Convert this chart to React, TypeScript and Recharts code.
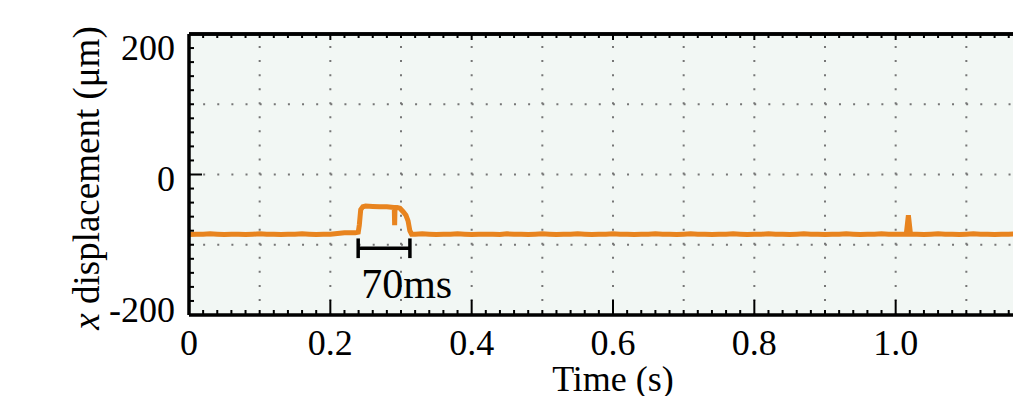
import React from "react";
import {
  LineChart,
  Line,
  XAxis,
  YAxis,
  CartesianGrid,
  ReferenceLine,
  ReferenceDot,
} from "recharts";

const FONT = '"Liberation Serif", "Times New Roman", serif';
const TRACE = "#e8841f";
const GRID_DOT = "#767676";

// sample step of the recorded trace (s)
const STEP = 0.01;

// baseline before the pulse, t = 0 .. 0.23
const PRE_VALUES = [
  -85.5, -85, -85, -84.5, -85, -85.5, -85, -85, -85.5, -85, -84.5, -85, -85,
  -85.5, -85, -85, -84.5, -85, -85.5, -85, -85, -84, -83, -83,
];

// the 70 ms pulse
const PULSE_T = [
  0.235, 0.2395, 0.241, 0.243, 0.246, 0.25, 0.26, 0.27, 0.28, 0.29, 0.2905,
  0.291, 0.2915, 0.295, 0.2985, 0.303, 0.307, 0.31, 0.3125, 0.315,
];
const PULSE_V = [
  -83, -82, -72, -50, -46, -45, -45.5, -46, -46, -47, -47, -72, -48, -47, -48,
  -53, -58, -66, -80, -85,
];

// baseline after the pulse, t = 0.32 .. 1.01
const POST_START = 0.32;
const POST_VALUES = [
  -85, -84.5, -85, -85.5, -85, -85, -84.5, -85, -85.5, -85,
  -85, -85, -85.5, -84.5, -85, -85, -85.5, -85, -84.5, -85,
  -85.5, -85, -85, -84.5, -85, -85.5, -85, -85, -84.5, -85,
  -85, -85.5, -85, -85, -84.5, -85, -85, -85.5, -85, -84.5,
  -85, -85, -85.5, -85, -85, -84.5, -85, -85.5, -85, -85,
  -84.5, -85, -85, -85.5, -85, -84.5, -85, -85, -85.5, -85,
  -85, -84.5, -85, -85.5, -85, -85, -84.5, -85, -85, -85,
];

// small spike near 1.02 s
const SPIKE_T = [1.015, 1.018, 1.021];
const SPIKE_V = [-85, -58, -85];

// tail, t = 1.03 .. 1.20
const TAIL_START = 1.03;
const TAIL_VALUES = [
  -85, -85.5, -85, -84.5, -85, -85, -85.5, -85, -84.5, -85, -85, -85.5, -85,
  -85, -84.5, -85, -85.5, -85,
];

const X_LABELS = [0, 0.2, 0.4, 0.6, 0.8, 1.0, 1.2];
const Y_LABELS = [-200, 0, 200];
const GRID_X = [0.1, 0.2, 0.3, 0.4, 0.5, 0.6, 0.7, 0.8, 0.9, 1.0, 1.1];
const GRID_Y = [-100, 0, 100];
const X_MINOR = Array.from({ length: 61 }, (_, i) => +(i * 0.02).toFixed(2));
const Y_MINOR = Array.from({ length: 21 }, (_, i) => -200 + i * 20);

// 70 ms bracket (data units)
const BRACKET = { from: 0.2394, to: 0.3126, level: -105, capLow: -119, capHigh: -91 };
const BRACKET_TEXT = { t: 0.308, v: -154, text: "70ms" };

const seq = (start: number, values: number[]) =>
  values.map((v, i) => ({ t: +(start + i * STEP).toFixed(3), x: v }));

const data = [
  ...seq(0, PRE_VALUES),
  ...PULSE_T.map((t, i) => ({ t, x: PULSE_V[i] })),
  ...seq(POST_START, POST_VALUES),
  ...SPIKE_T.map((t, i) => ({ t, x: SPIKE_V[i] })),
  ...seq(TAIL_START, TAIL_VALUES),
];

const near = (list: number[], v: number) => list.some((l) => Math.abs(l - v) < 1e-6);

const BottomTick = (props: any) => {
  const { x, y, payload } = props;
  const v = payload.value;
  const major = near(X_LABELS, v);
  return (
    <g>
      <line x1={x} x2={x} y1={y} y2={y - (major ? 15 : 5)} stroke="#000" strokeWidth={2} />
      {major && (
        <text x={x} y={y + 40} textAnchor="middle" fontSize={36} fontFamily={FONT} fill="#000">
          {v === 0 ? "0" : v.toFixed(1)}
        </text>
      )}
    </g>
  );
};

const TopTick = (props: any) => {
  const { x, y, payload } = props;
  const major = near(X_LABELS, payload.value);
  return <line x1={x} x2={x} y1={y} y2={y + (major ? 6 : 4)} stroke="#000" strokeWidth={2} />;
};

const LABEL_SHIFT: Record<number, number> = { 200: 26, 0: 16, "-200": 7 };

const LeftTick = (props: any) => {
  const { x, y, payload } = props;
  const v = payload.value;
  const major = near(Y_LABELS, v);
  return (
    <g>
      <line x1={x} x2={x + (major ? 13 : 5)} y1={y} y2={y} stroke="#000" strokeWidth={2} />
      {major && (
        <text x={x - 14} y={y + LABEL_SHIFT[v]} textAnchor="end" fontSize={36} fontFamily={FONT} fill="#000">
          {String(v)}
        </text>
      )}
    </g>
  );
};

const XTitle = () => (
  <text x={613} y={391} textAnchor="middle" fontSize={36} fontFamily={FONT} fill="#000">
    Time (s)
  </text>
);

const YTitle = () => (
  <text
    x={99}
    y={178}
    transform="rotate(-90 99 178)"
    textAnchor="middle"
    fontSize={37}
    fontFamily={FONT}
    fill="#000"
  >
    <tspan fontStyle="italic">x</tspan> displacement (μm)
  </text>
);

export default function App() {
  return (
    <div style={{ width: 1013, height: 396, overflow: "hidden", background: "#fff" }}>
      <style>{`html,body{margin:0;padding:0;overflow:hidden;background:#fff}`}</style>
      <LineChart
        width={1013}
        height={396}
        data={data}
        margin={{ top: 33, right: -24, bottom: 0, left: 0 }}
      >
        <CartesianGrid fill="#f2f7f4" horizontal={false} vertical={false} />
        <XAxis
          type="number"
          dataKey="t"
          domain={[0, 1.2]}
          ticks={X_MINOR}
          interval={0}
          tickSize={0}
          tickMargin={0}
          tickLine={false}
          tick={BottomTick}
          axisLine={{ stroke: "#000", strokeWidth: 3.5 }}
          height={81}
          label={<XTitle />}
        />
        <XAxis
          xAxisId="top"
          orientation="top"
          type="number"
          dataKey="t"
          domain={[0, 1.2]}
          ticks={X_MINOR}
          interval={0}
          tickSize={0}
          tickMargin={0}
          tickLine={false}
          tick={TopTick}
          axisLine={{ stroke: "#000", strokeWidth: 3.5 }}
          height={1}
        />
        <YAxis
          type="number"
          domain={[-200, 200]}
          ticks={Y_MINOR}
          interval={0}
          tickSize={0}
          tickMargin={0}
          tickLine={false}
          tick={LeftTick}
          axisLine={{ stroke: "#000", strokeWidth: 3.5 }}
          width={189}
          label={<YTitle />}
        />
        {GRID_X.map((g) => (
          <ReferenceLine key={"gx" + g} x={g} stroke={GRID_DOT} strokeWidth={2} strokeDasharray="2 12.05" />
        ))}
        {GRID_Y.map((g) => (
          <ReferenceLine key={"gy" + g} y={g} stroke={GRID_DOT} strokeWidth={2} strokeDasharray="2 12.13" />
        ))}
        <ReferenceLine y={200} stroke="#000" strokeWidth={3.5} />
        <Line
          dataKey="x"
          type="linear"
          stroke={TRACE}
          strokeWidth={5}
          dot={false}
          isAnimationActive={false}
        />
        <ReferenceLine
          segment={[
            { x: BRACKET.from, y: BRACKET.level },
            { x: BRACKET.to, y: BRACKET.level },
          ]}
          stroke="#000"
          strokeWidth={3.5}
        />
        <ReferenceLine
          segment={[
            { x: BRACKET.from, y: BRACKET.capLow },
            { x: BRACKET.from, y: BRACKET.capHigh },
          ]}
          stroke="#000"
          strokeWidth={3.5}
        />
        <ReferenceLine
          segment={[
            { x: BRACKET.to, y: BRACKET.capLow },
            { x: BRACKET.to, y: BRACKET.capHigh },
          ]}
          stroke="#000"
          strokeWidth={3.5}
        />
        <ReferenceDot
          x={BRACKET_TEXT.t}
          y={BRACKET_TEXT.v}
          r={0}
          fill="none"
          stroke="none"
          label={{
            value: BRACKET_TEXT.text,
            position: "center",
            fontSize: 42,
            fontFamily: FONT,
            fill: "#000",
          }}
        />
      </LineChart>
    </div>
  );
}
